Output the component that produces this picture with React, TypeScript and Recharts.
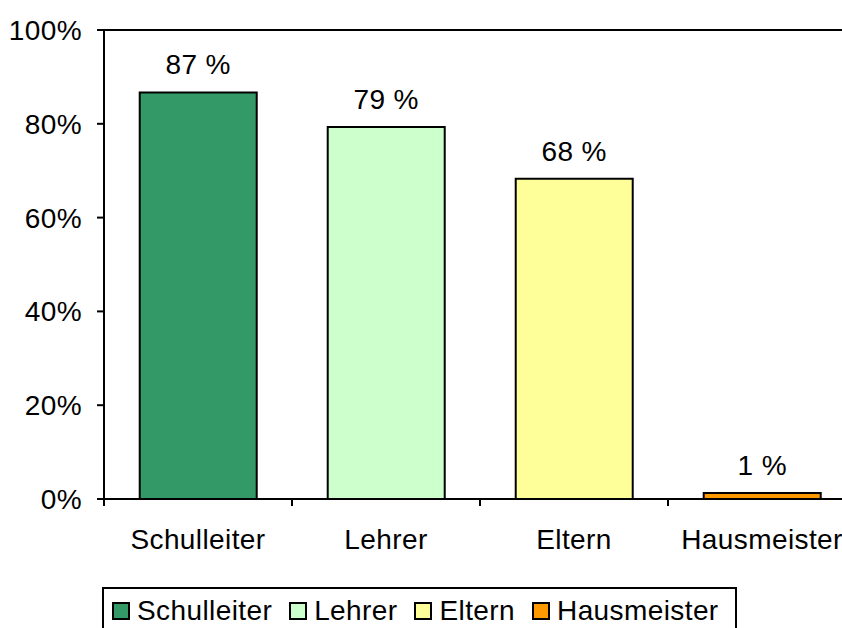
import React from "react";
import { Bar, BarChart, Cell, LabelList, ReferenceLine, XAxis, YAxis } from "recharts";

const categories = ["Schulleiter", "Lehrer", "Eltern", "Hausmeister"];
const values = [86.7, 79.3, 68.3, 1.3];
const labels = ["87 %", "79 %", "68 %", "1 %"];
const colors = ["#339966", "#CCFFCC", "#FFFF99", "#FF9900"];
const yTicks = [0, 20, 40, 60, 80, 100];

const FONT = "'Liberation Sans', Arial, sans-serif";
const FONT_SIZE = 28;
const SPACING = 0.4;
const TICK_SIZE = 7;
const TICK_MARGIN = 23;

const data = categories.map((name, i) => ({ name, value: values[i], label: labels[i] }));

// category labels centred in the band, tick marks on the band edges
function CategoryTick(props: any) {
  const { x, y, payload, width, visibleTicksCount, index } = props;
  const band = width / visibleTicksCount;
  const axisY = y - TICK_SIZE - TICK_MARGIN;
  return (
    <g>
      <line x1={x - band / 2} x2={x - band / 2} y1={axisY} y2={axisY + TICK_SIZE} stroke="#000" strokeWidth={2} />
      {index === visibleTicksCount - 1 && (
        <line x1={x + band / 2} x2={x + band / 2} y1={axisY} y2={axisY + TICK_SIZE} stroke="#000" strokeWidth={2} />
      )}
      <text x={x} y={y} dy="0.71em" textAnchor="middle" fill="#000" fontSize={FONT_SIZE} fontFamily={FONT} letterSpacing={SPACING}>
        {payload.value}
      </text>
    </g>
  );
}

export default function App() {
  return (
    <div style={{ position: "fixed", left: 0, top: 0, width: 842, height: 628, overflow: "hidden", background: "#fff" }}>
      <BarChart
        width={860}
        height={628}
        data={data}
        margin={{ top: 30, right: 4, bottom: 69, left: 0 }}
        barCategoryGap="19%"
        style={{ fontFamily: FONT }}
      >
        <XAxis
          dataKey="name"
          height={60}
          axisLine={{ stroke: "#000", strokeWidth: 2 }}
          tickLine={false}
          tickSize={TICK_SIZE}
          tickMargin={TICK_MARGIN}
          interval={0}
          tick={<CategoryTick />}
        />
        <YAxis
          width={104}
          domain={[0, 100]}
          ticks={yTicks}
          tickFormatter={(v: number) => `${v}%`}
          axisLine={{ stroke: "#000", strokeWidth: 2 }}
          tickLine={{ stroke: "#000", strokeWidth: 2 }}
          tickSize={TICK_SIZE}
          tickMargin={15}
          tick={{ fill: "#000", fontSize: FONT_SIZE, fontFamily: FONT, letterSpacing: SPACING }}
        />
        <ReferenceLine y={100} stroke="#000" strokeWidth={2} />
        <Bar dataKey="value" stroke="#000" strokeWidth={2} isAnimationActive={false}>
          {data.map((d, i) => (
            <Cell key={d.name} fill={colors[i]} />
          ))}
          <LabelList
            dataKey="label"
            position="top"
            offset={18}
            fill="#000"
            fontSize={FONT_SIZE}
            fontFamily={FONT}
            letterSpacing={SPACING}
          />
        </Bar>
      </BarChart>
      <div
        style={{
          position: "absolute",
          left: 102,
          top: 587,
          width: 635,
          height: 50,
          boxSizing: "border-box",
          border: "2px solid #000",
          display: "flex",
          alignItems: "flex-start",
          paddingLeft: 8,
          paddingTop: 10,
          fontFamily: FONT,
          fontSize: FONT_SIZE,
          letterSpacing: SPACING,
          color: "#000",
        }}
      >
        {categories.map((c, i) => (
          <div key={c} style={{ display: "flex", alignItems: "center", marginRight: 17, lineHeight: "24px" }}>
            <span
              style={{
                display: "inline-block",
                width: 18,
                height: 18,
                boxSizing: "border-box",
                border: "2px solid #000",
                background: colors[i],
                marginRight: 7,
              }}
            />
            <span>{c}</span>
          </div>
        ))}
      </div>
    </div>
  );
}
